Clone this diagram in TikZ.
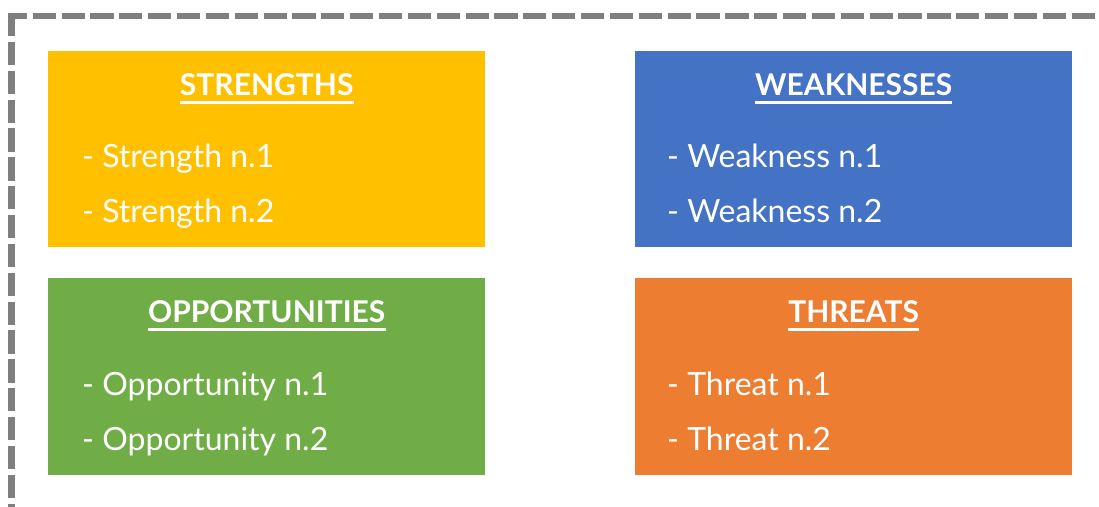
\documentclass[tikz,border=0pt]{standalone}
\usepackage{fontspec}
\setmainfont{Lato}
\usetikzlibrary{calc}
\definecolor{swotyellow}{HTML}{FFC000}
\definecolor{swotblue}{HTML}{4472C4}
\definecolor{swotgreen}{HTML}{70AD47}
\definecolor{swotorange}{HTML}{ED7D31}
\definecolor{framegray}{HTML}{7F7F7F}
\begin{document}
\begin{tikzpicture}[x=1pt,y=-1pt,
  quad/.style={rectangle, inner sep=0pt, minimum width=437pt, minimum height=196pt, anchor=north west},
  head/.style={font=\fontsize{30}{30}\selectfont\bfseries, text=white, inner sep=0pt, anchor=base},
  item/.style={font=\fontsize{32}{32}\selectfont, text=white, inner sep=0pt, anchor=base west},
  uline/.style={white, line width=3.2pt},
  frameline/.style={framegray, line width=6.5pt, dash pattern=on 23.2pt off 5.66pt}]
\useasboundingbox (0,0) rectangle (1099,506);
% dashed frame: top edge and left edge
\coordinate (tl) at (8,16);
\coordinate (tr) at (1095,16);
\coordinate (lt) at (11.5,13);
\coordinate (lb) at (11.5,520);
\draw[frameline, dash phase=4.2pt] (tl) -- (tr);
\draw[frameline] (lt) -- (lb);
% the four quadrants
\node[quad, fill=swotyellow] (s) at (48,51) {};
\node[quad, fill=swotblue] (w) at (635,51) {};
\node[quad, fill=swotgreen, minimum height=197pt] (o) at (48,278) {};
\node[quad, fill=swotorange, minimum height=197pt] (t) at (635,278) {};
% headings with underline
\foreach \b/\h in {s/STRENGTHS, w/WEAKNESSES, o/OPPORTUNITIES, t/THREATS}{
  \node[head] (\b h) at ($(\b.north)+(0,44)$) {\h};
  \draw[uline] ($(\b h.base west)+(0,7.5)$) -- ($(\b h.base east)+(0,7.5)$);
}
% list items
\node[item] (s1) at ($(s.north west)+(34,116)$) {- Strength n.1};
\node[item] (s2) at ($(s.north west)+(34,171)$) {- Strength n.2};
\node[item] (w1) at ($(w.north west)+(32,116)$) {- Weakness n.1};
\node[item] (w2) at ($(w.north west)+(32,171)$) {- Weakness n.2};
\node[item] (o1) at ($(o.north west)+(34,117)$) {- Opportunity n.1};
\node[item] (o2) at ($(o.north west)+(34,172)$) {- Opportunity n.2};
\node[item] (t1) at ($(t.north west)+(32,117)$) {- Threat n.1};
\node[item] (t2) at ($(t.north west)+(32,172)$) {- Threat n.2};
\end{tikzpicture}
\end{document}
